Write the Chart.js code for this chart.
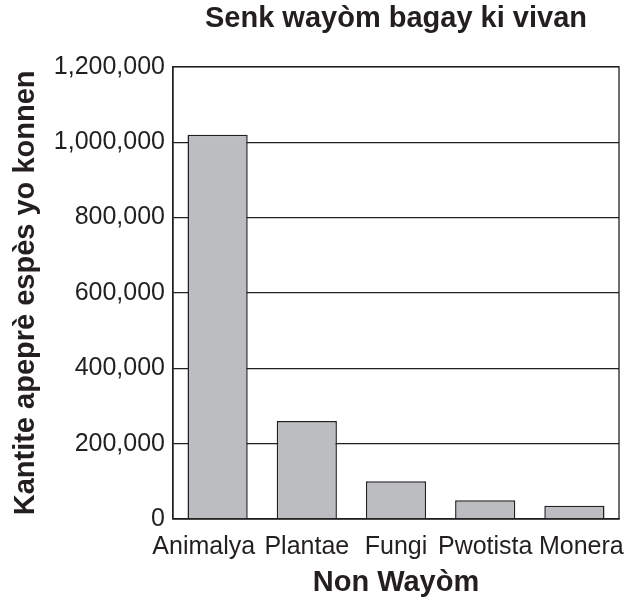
<!DOCTYPE html>
<html>
<head>
<meta charset="utf-8">
<script src="https://cdn.jsdelivr.net/npm/chart.js@4.4.1/dist/chart.umd.min.js"></script>
<style>
	html, body { margin: 0; padding: 0; background: #fff; }
	#wrap { width: 640px; height: 604px; position: relative; }
</style>
</head>
<body>
<div id="wrap"><canvas id="chart"></canvas></div>
<script>
const kingdoms = ['Animalya', 'Plantae', 'Fungi', 'Pwotista', 'Monera'];
const speciesCount = [1020000, 260000, 100000, 50000, 35000];
const yTicks = [0, 200000, 400000, 600000, 800000, 1000000, 1200000];

const ink = '#231f20';
const fontFamily = '"Liberation Sans", Arial, Helvetica, sans-serif';

// box round the plot area (top and right sides are not drawn by the axes)
const plotFrame = {
	id: 'plotFrame',
	afterDraw(chart) {
		const a = chart.chartArea;
		const ctx = chart.ctx;
		ctx.save();
		ctx.strokeStyle = ink;
		ctx.lineWidth = 1.3;
		ctx.strokeRect(a.left, a.top, a.right - a.left, a.bottom - a.top);
		ctx.restore();
	}
};

// the first label sits a bit left and the last a bit right so they don't collide
function spreadLabel(label, i) {
	if (i === 0) return label + '    ';
	if (i === kingdoms.length - 1) return '  ' + label;
	return label;
}

const ctx = document.getElementById('chart').getContext('2d');
new Chart(ctx, {
	type: 'bar',
	data: {
		labels: kingdoms,
		datasets: [{
			data: speciesCount,
			backgroundColor: '#bcbdc1',
			borderColor: ink,
			borderWidth: 1.5,
			barPercentage: 0.675,
			categoryPercentage: 1
		}]
	},
	options: {
		responsive: true,
		maintainAspectRatio: false,
		animation: false,
		layout: { padding: { left: 0, right: 21, top: 0, bottom: 0 } },
		plugins: {
			legend: { display: false },
			tooltip: { enabled: false },
			title: {
				display: true,
				fullSize: false,
				text: 'Senk wayòm bagay ki vivan',
				color: ink,
				font: { family: fontFamily, size: 29, weight: 'bold' },
				padding: { top: 2, bottom: 30 }
			}
		},
		scales: {
			x: {
				grid: { display: false, drawTicks: false },
				border: { display: true, color: ink, width: 1.3 },
				ticks: {
					color: ink,
					font: { family: fontFamily, size: 25 },
					padding: 13,
					autoSkip: false,
					maxRotation: 0,
					minRotation: 0,
					callback(v, i) { return spreadLabel(kingdoms[i], i); }
				},
				title: {
					display: true,
					text: 'Non Wayòm',
					color: ink,
					font: { family: fontFamily, size: 29, weight: 'bold' },
					padding: { top: 0, bottom: 4 }
				},
				afterFit(scale) { scale.height = 85; }
			},
			y: {
				min: 0,
				max: 1200000,
				grid: { color: ink, lineWidth: 1.3, drawTicks: false },
				border: { display: true, color: ink, width: 1.3 },
				afterBuildTicks(scale) {
					scale.ticks = yTicks.map(v => ({ value: v }));
				},
				ticks: {
					color: ink,
					font: { family: fontFamily, size: 25 },
					padding: 8,
					callback: v => v.toLocaleString('en-US')
				},
				title: {
					display: true,
					text: 'Kantite apeprè espès yo konnen',
					color: ink,
					font: { family: fontFamily, size: 29, weight: 'bold' },
					padding: { top: 9, bottom: 0 }
				},
				afterFit(scale) { scale.width = 173; }
			}
		}
	},
	plugins: [plotFrame]
});
</script>
</body>
</html>
